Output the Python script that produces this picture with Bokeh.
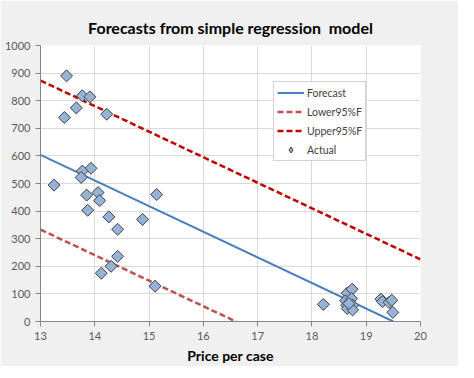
import numpy as np
from bokeh.plotting import figure
from bokeh.models import Range1d, FixedTicker, Legend, LegendItem
from bokeh.embed import file_html
from bokeh.resources import INLINE

# Actual data (price per case, cases sold)
price = [13.48, 13.44, 13.66, 13.77, 13.91, 14.22, 13.93, 13.77, 13.75, 13.25,
         15.14, 13.85, 14.06, 14.09, 13.87, 14.26, 14.88, 14.42, 14.42, 14.30,
         14.12, 15.11, 18.21, 18.65, 18.74, 18.62, 18.73, 18.64, 18.75, 18.65,
         18.75, 18.68, 19.27, 19.30, 19.42, 19.47, 19.49]
actual = [890, 739, 774, 818, 814, 751, 555, 545, 522, 494,
          460, 458, 467, 438, 403, 379, 370, 334, 236, 200,
          175, 128, 62, 103, 117, 75, 83, 59, 59, 47,
          42, 65, 81, 72, 69, 77, 33]

# Forecast and 95% bands
forecast_x = [13, 19.5]
forecast_y = [604, 0]
band_x = [13, 20]
lower_y = [333, -315]
upper_y = [873, 225]

x_ticks = [13, 14, 15, 16, 17, 18, 19, 20]
y_ticks = [0, 100, 200, 300, 400, 500, 600, 700, 800, 900, 1000]

FONT = "Lato"
BG = "#f0f0f0"

p = figure(width=458, height=362, output_backend="svg", toolbar_location=None,
           x_range=Range1d(13, 20), y_range=Range1d(0, 1000),
           min_border_left=40, min_border_right=38, min_border_top=45, min_border_bottom=41,
           frame_width=380, frame_height=276,
           background_fill_color="white", border_fill_color=BG,
           outline_line_color=None)

p.title.text = "Forecasts from simple regression\u00a0 model"
p.title.align = "center"
p.title.offset = -10
p.title.text_font = FONT
p.title.text_font_size = "16px"
p.title.text_font_style = "bold"
p.title.text_color = "#000000"
p.title.standoff = 18

for ax in (p.xaxis, p.yaxis):
    ax.axis_line_color = "#868686"
    ax.major_tick_line_color = "#868686"
    ax.minor_tick_line_color = None
    ax.major_tick_in = 0
    ax.major_tick_out = 5
    ax.major_label_text_font = FONT
    ax.major_label_text_font_size = "11px"
    ax.major_label_text_color = "#595959"
    ax.major_label_standoff = 5

p.xaxis.ticker = FixedTicker(ticks=x_ticks)
p.yaxis.ticker = FixedTicker(ticks=y_ticks)
p.xaxis.axis_label = "Price per case"
p.xaxis.axis_label_text_font = FONT
p.xaxis.axis_label_text_font_size = "14px"
p.xaxis.axis_label_text_font_style = "bold"
p.xaxis.axis_label_text_color = "#000000"
p.xaxis.axis_label_standoff = 4

p.xgrid.ticker = FixedTicker(ticks=x_ticks)
p.ygrid.ticker = FixedTicker(ticks=y_ticks)
p.grid.grid_line_color = "#d9d9d9"
p.grid.grid_line_width = 1

r_fc = p.line(forecast_x, forecast_y, line_color="#4a7ebb", line_width=2)
r_lo = p.line(band_x, lower_y, line_color="#c0504d", line_width=2.5, line_dash="6 3")
r_up = p.line(band_x, upper_y, line_color="#c00000", line_width=2.5, line_dash="6 3")
r_act = p.scatter(price, actual, marker="square", size=8.5, angle=np.pi / 4,
                  fill_color="#95b3d7", line_color="#3f3f3f", line_width=1)
# legend-only glyph (diamond, as in the reference legend)
r_leg = p.scatter([float("nan")], [float("nan")], marker="diamond", size=11,
                  fill_color="#95b3d7", line_color="#3f3f3f", line_width=1)

legend = Legend(items=[
    LegendItem(label="Forecast", renderers=[r_fc]),
    LegendItem(label="Lower95%F", renderers=[r_lo]),
    LegendItem(label="Upper95%F", renderers=[r_up]),
    LegendItem(label="Actual", renderers=[r_leg]),
], location=(233, 160))
legend.glyph_width = 27
legend.glyph_height = 15
legend.label_height = 15
legend.label_standoff = 3
legend.spacing = 4
legend.padding = 3
legend.margin = 0
legend.label_text_font = FONT
legend.label_text_font_size = "10.5px"
legend.label_text_color = "#404040"
legend.border_line_color = "#a6a6a6"
legend.background_fill_color = "white"
legend.background_fill_alpha = 1
p.add_layout(legend)

open("out.html", "w").write(file_html(p, INLINE))
